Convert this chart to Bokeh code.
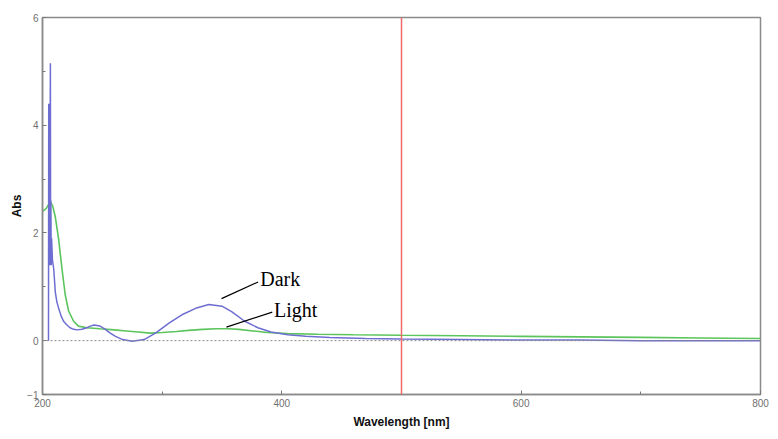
from bokeh.plotting import figure
from bokeh.models import Range1d, FixedTicker, Span, Label
from bokeh.embed import file_html
from bokeh.resources import INLINE

# ---- data ----
dark_wl = [205.0, 205.2, 205.4, 205.6, 205.8, 206.0, 206.2, 206.4, 206.6, 206.8, 207.0, 207.3,
           207.6, 208.3, 209.4, 210.7, 212.0,
           213.5, 215.5, 217.6, 220.0, 223.0, 226.0, 229.0, 233.0, 237.0, 240.0, 243.0, 248.0,
           252.0, 256.0, 261.0, 267.0, 275.0, 285.0, 295.0, 306.0, 316.5, 328.0, 339.0, 350.0,
           358.0, 369.0, 380.0, 391.0, 405.0, 420.0, 440.0, 470.0, 500.0, 550.0, 600.0, 650.0,
           700.0, 750.0, 800.0]
dark_abs = [0.0, 4.4, 1.6, 4.2, 1.5, 3.9, 1.4, 4.0, 5.15, 1.5, 2.6, 1.4,
            1.9, 1.5, 1.33, 0.9, 0.72,
            0.6, 0.46, 0.36, 0.3, 0.24, 0.21, 0.2, 0.21, 0.24, 0.27, 0.29, 0.27,
            0.22, 0.15, 0.08, 0.02, -0.01, 0.02, 0.15, 0.33, 0.48, 0.6, 0.67, 0.64,
            0.54, 0.36, 0.24, 0.16, 0.11, 0.08, 0.06, 0.04, 0.03, 0.02, 0.01, 0.01,
            0.0, 0.0, 0.0]

light_wl = [200.0, 203.0, 206.6, 208.5, 210.7, 213.5, 216.3, 219.0, 221.8, 226.0, 230.0, 237.0,
            248.0, 260.0, 270.0, 280.0, 290.0, 300.0, 312.0, 322.0, 334.0, 345.0, 355.0, 364.0,
            376.0, 388.0, 405.0, 430.0, 460.0, 500.0, 550.0, 600.0, 650.0, 700.0, 750.0, 800.0]
light_abs = [2.4, 2.45, 2.58, 2.5, 2.3, 1.88, 1.33, 0.85, 0.55, 0.36, 0.27, 0.24,
             0.22, 0.2, 0.18, 0.16, 0.14, 0.15, 0.17, 0.19, 0.21, 0.22, 0.22, 0.21,
             0.18, 0.15, 0.13, 0.12, 0.11, 0.1, 0.09, 0.08, 0.07, 0.06, 0.05, 0.04]

x_ticks = [200, 400, 600, 800]
x_minor = [300, 500, 700]
y_ticks = [-1, 0, 2, 4, 6]
y_minor = [1, 3, 5]
marker_wl = 500

labels = ["Dark", "Light"]
label_x = [382.0, 393.5]
label_y = [1.15, 0.57]
leader_x0 = [349.6, 353.7]
leader_y0 = [0.78, 0.25]
leader_x1 = [380.2, 392.0]
leader_y1 = [1.09, 0.53]

# ---- figure ----
p = figure(width=770, height=431, output_backend="svg", toolbar_location=None,
           x_range=Range1d(200, 800), y_range=Range1d(-1, 6),
           min_border_left=42, min_border_right=10, min_border_top=17, min_border_bottom=34)
p.grid.visible = False
p.outline_line_color = "#8a8a8a"
p.outline_line_width = 1.5
p.background_fill_color = "white"
p.border_fill_color = "white"

for ax in (p.xaxis[0], p.yaxis[0]):
    ax.axis_line_color = "#8a8a8a"
    ax.axis_line_width = 1.5
    ax.major_tick_in = 4
    ax.major_tick_out = 0
    ax.minor_tick_in = 3
    ax.minor_tick_out = 0
    ax.major_tick_line_color = "#777777"
    ax.minor_tick_line_color = "#777777"
    ax.major_label_text_color = "#707070"
    ax.major_label_text_font = "Liberation Sans"
    ax.major_label_text_font_size = "10px"
    ax.major_label_standoff = 4
    ax.axis_label_text_font = "Liberation Sans Narrow, Liberation Sans"
    ax.axis_label_text_font_style = "bold"
    ax.axis_label_text_font_size = "12px"
    ax.axis_label_text_color = "#111111"

p.xaxis.ticker = FixedTicker(ticks=x_ticks, minor_ticks=x_minor)
p.yaxis.ticker = FixedTicker(ticks=y_ticks, minor_ticks=y_minor)
p.xaxis.axis_label = "Wavelength [nm]"
p.yaxis.axis_label = "Abs"
p.xaxis.axis_label_standoff = 5
p.yaxis.axis_label_standoff = 0

# zero baseline
p.add_layout(Span(location=0, dimension="width", line_color="#888888",
                  line_dash="2 2", line_width=1))
# marker line
p.add_layout(Span(location=marker_wl, dimension="height", line_color="#f26a6a", line_width=1.5))

p.line(light_wl, light_abs, line_color="#5cc45c", line_width=1.6)
p.line(dark_wl, dark_abs, line_color="#6e6ed2", line_width=1.5)

p.segment(x0=leader_x0, y0=leader_y0, x1=leader_x1, y1=leader_y1,
          line_color="black", line_width=1.2)
for t, x, y in zip(labels, label_x, label_y):
    p.add_layout(Label(x=x, y=y, text=t, text_font="Liberation Serif",
                       text_font_size="20px", text_color="black",
                       text_baseline="middle", text_align="left"))

open("out.html", "w").write(file_html(p, INLINE))
